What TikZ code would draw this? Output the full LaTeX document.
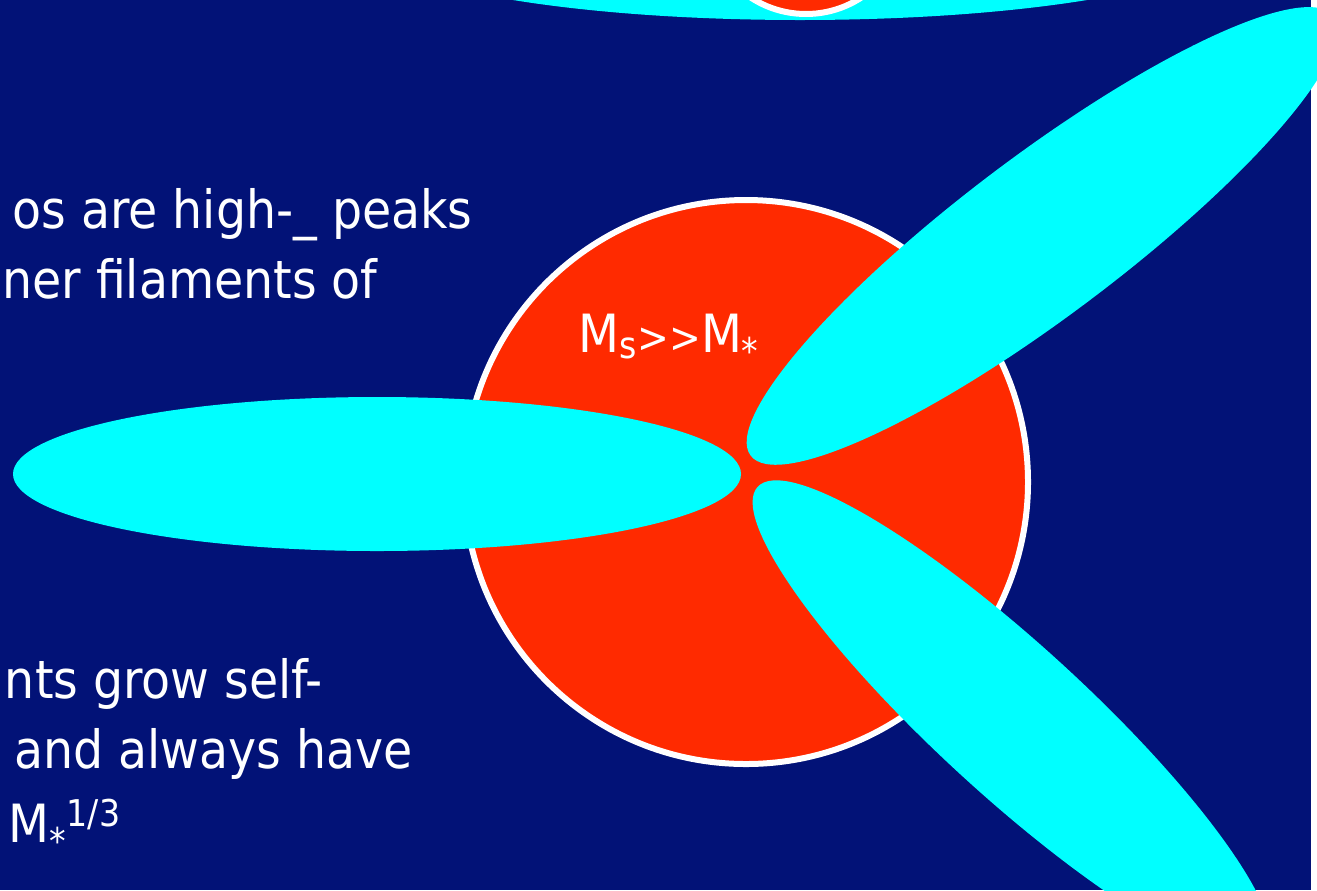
\documentclass[tikz,border=0pt]{standalone}
\usepackage{fontspec}
\setmainfont{DejaVu Sans Condensed}
\usepackage{xcolor}
\definecolor{navy}{HTML}{021277}
\definecolor{halored}{HTML}{FF2A00}
\definecolor{lobe}{HTML}{00FFFF}

\begin{document}
\begin{tikzpicture}[x=0.02cm,y=-0.02cm,
  filament/.style={fill=lobe},
  halo/.style={fill=halored,draw=white,line width=0.12cm},
  words/.style={text=white,inner sep=0pt,font=\fontsize{30}{36}\selectfont}]
  \clip (0,0) rectangle (1317,890);
  \fill[navy] (0,0) rectangle (1311,890);
  \fill[white] (1311,0) rectangle (1317,890);
  % edge of the panel above
  \coordinate (T) at (800,-60);
  \fill[filament] (T) ellipse [x radius=434,y radius=80];
  \draw[halo] (806,-87) circle [radius=101];
  % big halo and its three filaments
  \coordinate (H) at (746,482);
  \coordinate (F1) at (377,474);
  \coordinate (F2) at (1042,236);
  \coordinate (F3) at (1012,720);
  \draw[halo] (H) circle [radius=282];
  \fill[filament] (F1) ellipse [x radius=364,y radius=77];
  \fill[filament,rotate around={37:(F2)}] (F2) ellipse [x radius=365,y radius=80];
  \fill[filament,rotate around={-42.5:(F3)}] (F3) ellipse [x radius=345,y radius=75];
  \node[words,anchor=base west] (mass) at (578,352)
    {M\textsubscript{s}{\fontsize{24}{28}\selectfont\mbox{>}\mbox{>}}M\textsubscript{*}};
  % text cut off at the left
  \node[words,anchor=base east] (peaks) at (473,228) {os are high-\_ peaks};
  \node[words,anchor=base east] (fil) at (378,298) {ner filaments of};
  \node[words,anchor=base east] (grow) at (323,698) {nts grow self-};
  \node[words,anchor=base west] (have) at (14,768) {and always have};
  \node[words,anchor=base west] (pow) at (8,842)
    {M\textsubscript{*}\textsuperscript{1/3}};
\end{tikzpicture}
\end{document}
